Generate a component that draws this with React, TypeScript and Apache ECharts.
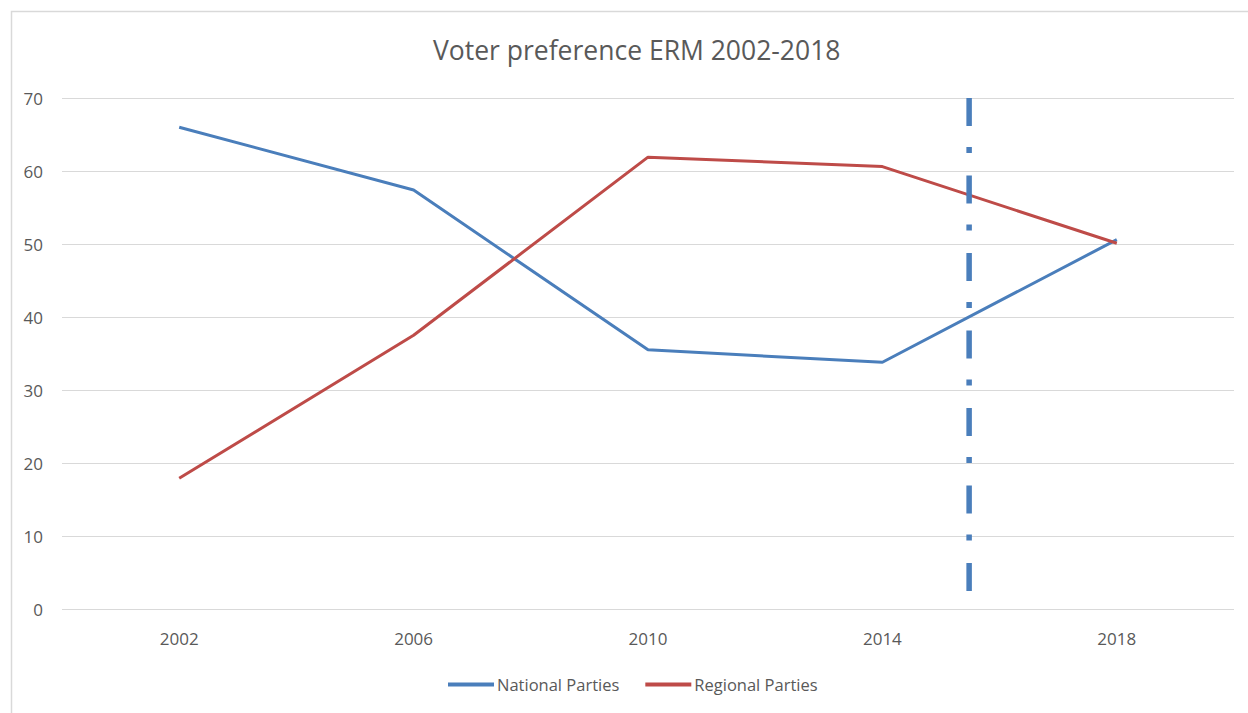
import React, { useEffect, useRef } from "react";
import * as echarts from "echarts";

const years = ["2002", "2006", "2010", "2014", "2018"];
const nationalParties = [66.0, 57.4, 35.5, 33.8, 50.6];
const regionalParties = [17.9, 37.5, 61.9, 60.6, 50.1];
const yTicks = [0, 10, 20, 30, 40, 50, 60, 70];
// Position of the marker line on the category scale (between 2014 and 2018)
const markerPosition = 3.37;

const FONT = "'Open Sans', 'Noto Sans', sans-serif";
const TEXT = "#595959";
const BLUE = "#4a7ebb";
const RED = "#be4b48";

export default function App() {
  const ref = useRef<HTMLDivElement>(null);

  useEffect(() => {
    if (!ref.current) return;
    const chart = echarts.init(ref.current, undefined, { renderer: "svg" });
    chart.setOption({
      animation: false,
      backgroundColor: "#ffffff",
      textStyle: { fontFamily: FONT },
      title: {
        text: "Voter preference ERM 2002-2018",
        left: 428,
        top: 31,
        textStyle: { fontFamily: FONT, fontSize: 26.5, fontWeight: "normal", color: TEXT },
      },
      graphic: [
        {
          type: "rect",
          shape: { x: 11.5, y: 11.5, width: 1260, height: 720 },
          style: { fill: "none", stroke: "#d9d9d9", lineWidth: 1.5 },
          silent: true,
        },
      ],
      legend: {
        data: ["National Parties", "Regional Parties"],
        top: 671,
        left: 443,
        icon: "rect",
        itemWidth: 46,
        itemHeight: 4,
        itemGap: 26,
        textStyle: { fontFamily: FONT, fontSize: 16.5, color: TEXT, padding: [0, 0, 0, -2] },
      },
      grid: { left: 62, right: 14, top: 98, bottom: 104, containLabel: false },
      xAxis: [
        {
          type: "category",
          data: years,
          boundaryGap: true,
          axisLine: { show: false },
          axisTick: { show: false },
          axisLabel: { color: TEXT, fontSize: 17, margin: 21, fontFamily: FONT },
        },
        {
          type: "value",
          min: -0.5,
          max: 4.5,
          show: false,
        },
      ],
      yAxis: {
        type: "value",
        min: yTicks[0],
        max: yTicks[yTicks.length - 1],
        interval: 10,
        axisLine: { show: false },
        axisTick: { show: false },
        axisLabel: { color: TEXT, fontSize: 17, margin: 19, fontFamily: FONT },
        splitLine: { lineStyle: { color: "#d9d9d9", width: 1.2 } },
      },
      series: [
        {
          name: "National Parties",
          type: "line",
          data: nationalParties,
          symbol: "none",
          lineStyle: { color: BLUE, width: 3 },
          itemStyle: { color: BLUE },
        },
        {
          name: "Regional Parties",
          type: "line",
          data: regionalParties,
          symbol: "none",
          lineStyle: { color: RED, width: 3 },
          itemStyle: { color: RED },
        },
        {
          name: "marker",
          type: "line",
          xAxisIndex: 1,
          data: [
            [markerPosition, yTicks[yTicks.length - 1]],
            [markerPosition, yTicks[0]],
          ],
          symbol: "none",
          lineStyle: { color: BLUE, width: 5.5, type: [28, 21, 6, 22.5], cap: "butt" },
          silent: true,
          z: 3,
        },
      ],
    });
    return () => chart.dispose();
  }, []);

  return (
    <div
      ref={ref}
      style={{ position: "absolute", left: 0, top: 0, width: 1248, height: 713 }}
    />
  );
}
